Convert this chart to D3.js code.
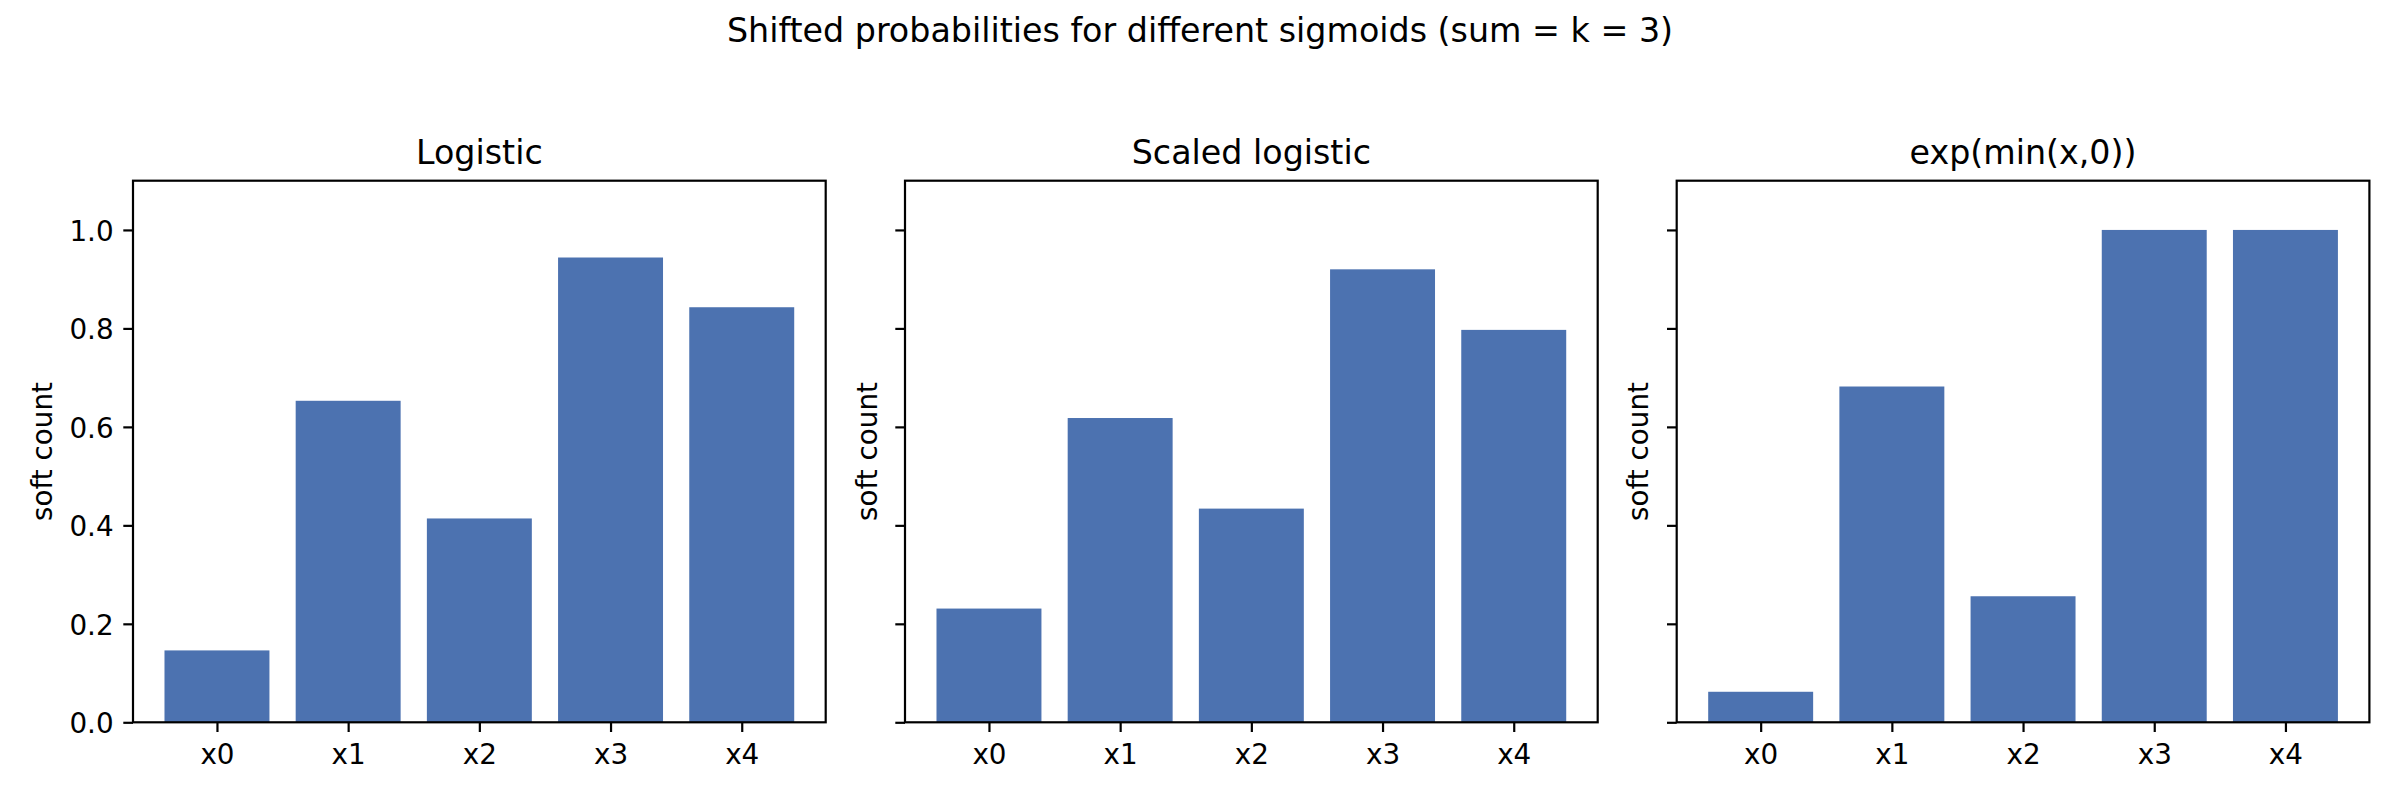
<!DOCTYPE html>
<html>
<head>
<meta charset="utf-8">
<script src="https://cdn.jsdelivr.net/npm/d3@7"></script>
<style>
  html, body { margin: 0; padding: 0; background: #ffffff; }
  svg { display: block; font-family: "DejaVu Sans", sans-serif; }
</style>
</head>
<body>
<svg id="chart" width="2400" height="800"></svg>
<script>
// ---- data ----
const suptitle = "Shifted probabilities for different sigmoids (sum = k = 3)";
const categories = ["x0", "x1", "x2", "x3", "x4"];
const panelTitles = ["Logistic", "Scaled logistic", "exp(min(x,0))"];
const logisticValues = [0.146, 0.653, 0.414, 0.944, 0.843];
const scaledLogisticValues = [0.231, 0.618, 0.434, 0.920, 0.797];
const expMinValues = [0.062, 0.682, 0.256, 1.0, 1.0];
const yTicks = [0.0, 0.2, 0.4, 0.6, 0.8, 1.0];
const yLabel = "soft count";

const seriesList = [logisticValues, scaledLogisticValues, expMinValues];

// ---- layout ----
const W = 2400, H = 800;
const axLeft = [133, 905, 1676.7];
const axWidth = 692.7;
const axTop = 180.7, axBottom = 722.3;
const barColor = "#4C72B0";
const lw = 2.2;
const tickLen = 9.7;
const tickFont = 27.8;
const titleFont = 33.3;

const svg = d3.select("#chart");
svg.append("rect").attr("width", W).attr("height", H).attr("fill", "#fff");

svg.append("text")
  .attr("x", 1200).attr("y", 42.3)
  .attr("text-anchor", "middle")
  .attr("font-size", titleFont)
  .attr("fill", "#000")
  .text(suptitle);

const y = d3.scaleLinear().domain([0, 1.1]).range([axBottom, axTop]);

seriesList.forEach((values, pi) => {
  const left = axLeft[pi];
  const x = d3.scaleLinear().domain([-0.64, 4.64]).range([left, left + axWidth]);
  const g = svg.append("g");
  const barW = x(0.8) - x(0);

  // bars
  g.selectAll("rect.bar").data(values).enter().append("rect")
    .attr("class", "bar")
    .attr("x", (d, i) => x(i - 0.4))
    .attr("width", barW)
    .attr("y", d => y(d))
    .attr("height", d => y(0) - y(d))
    .attr("fill", barColor);

  // x axis
  const xAxis = d3.axisBottom(x)
    .tickValues(categories.map((c, i) => i))
    .tickFormat(i => categories[i])
    .tickSize(tickLen).tickSizeOuter(0).tickPadding(9.7);
  const gx = g.append("g").attr("transform", `translate(0,${axBottom})`).call(xAxis);
  gx.select(".domain").remove();
  gx.selectAll(".tick line").attr("stroke", "#000").attr("stroke-width", lw);
  gx.selectAll(".tick text")
    .attr("font-size", tickFont).attr("font-family", "DejaVu Sans")
    .attr("fill", "#000").attr("dy", null).attr("y", null)
    .attr("transform", `translate(0,${764 - axBottom})`)
    .attr("dominant-baseline", "alphabetic");

  // y axis
  const yAxis = d3.axisLeft(y)
    .tickValues(yTicks)
    .tickFormat(pi === 0 ? d3.format(".1f") : () => "")
    .tickSize(tickLen).tickSizeOuter(0).tickPadding(9.7);
  const gy = g.append("g").attr("transform", `translate(${left},0)`).call(yAxis);
  gy.select(".domain").remove();
  gy.selectAll(".tick line").attr("stroke", "#000").attr("stroke-width", lw);
  gy.selectAll(".tick text")
    .attr("font-size", tickFont).attr("font-family", "DejaVu Sans")
    .attr("fill", "#000").attr("dy", "0.37em");

  // y label
  const labelX = pi === 0 ? left - 81.3 : left - 28.3;
  g.append("text")
    .attr("transform", `translate(${labelX},${(axTop + axBottom) / 2}) rotate(-90)`)
    .attr("text-anchor", "middle")
    .attr("font-size", tickFont)
    .attr("fill", "#000")
    .text(yLabel);

  // spines
  g.append("rect")
    .attr("x", left).attr("y", axTop)
    .attr("width", axWidth).attr("height", axBottom - axTop)
    .attr("fill", "none").attr("stroke", "#000").attr("stroke-width", lw)
    .attr("stroke-linejoin", "miter");

  // title
  g.append("text")
    .attr("x", left + axWidth / 2).attr("y", 163.5)
    .attr("text-anchor", "middle")
    .attr("font-size", titleFont)
    .attr("fill", "#000")
    .text(panelTitles[pi]);
});
</script>
</body>
</html>
